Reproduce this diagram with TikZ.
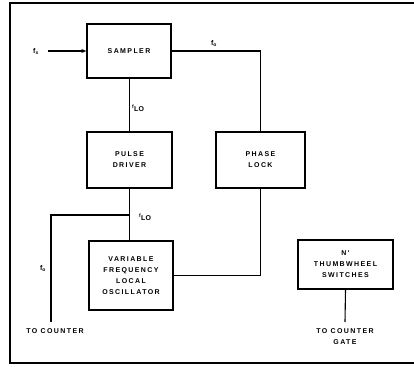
\documentclass[tikz,border=0pt]{standalone}
\usepackage{fontspec}
\newfontfamily\blk[LetterSpace=20]{Liberation Sans}
\newfontfamily\sml{Liberation Sans}
\usetikzlibrary{arrows.meta}
\tikzset{
  blockbox/.style={draw, line width=1.3pt, align=center, inner sep=0pt,
    font=\blk\bfseries\fontsize{7}{11}\selectfont},
  wire/.style={line width=1.1pt},
  lbl/.style={inner sep=0pt, font=\blk\bfseries\fontsize{7}{11}\selectfont, align=center},
  sig/.style={inner sep=0pt, font=\sml\bfseries\fontsize{7}{8}\selectfont},
  frame/.style={line width=1.4pt}
}
\begin{document}
\begin{tikzpicture}[x=1pt,y=-1pt]
\useasboundingbox (0,0) rectangle (414,366);
\fill[white] (0,0) rectangle (414,366);
% frame (right side cut off)
\draw[frame] (414,3) -- (10,3) -- (10,363) -- (414,363);

\node[blockbox, minimum width=84pt, minimum height=54pt] (smp) at (129,51) {SAMPLER};
\node[blockbox, minimum width=85pt, minimum height=56pt] (pd) at (129.5,160) {PULSE\\DRIVER};
\node[blockbox, minimum width=89pt, minimum height=56pt] (pl) at (260.5,160) {PHASE\\LOCK};
\node[blockbox, minimum width=84pt, minimum height=69pt] (vf) at (131,275.5) {VARIABLE\\FREQUENCY\\LOCAL\\OSCILLATOR};
\node[blockbox, minimum width=95pt, minimum height=49pt] (tw) at (345.5,264.5) {N'\\THUMBWHEEL\\SWITCHES};

\node[sig] (fx) at (36,51) {f\textsubscript{x}};
\node[sig] (fo1) at (214,43) {f\textsubscript{o}};
\node[sig] (flo1) at (138,108) {\textsuperscript{f}LO};
\node[sig] (flo2) at (145,217) {\textsuperscript{f}LO};
\node[sig] (fo2) at (43,268) {f\textsubscript{o}};
\node[lbl] (tc) at (55,331) {TO COUNTER};
\node[lbl] (tcg) at (345,337) {TO COUNTER\\GATE};

\coordinate (fxs) at (48,51);
\coordinate (j) at (129,215);
\coordinate (tcend) at (51,322);
\coordinate (tgend) at (345,322);

\draw[wire, -{Stealth[length=5pt,width=4pt]}] (fxs) -- (smp.west);
\draw[wire] (smp.east) -- (smp.east -| pl.north) -- (pl.north);
\draw[wire] (smp.south -| pd.north) -- (pd.north);
\draw[wire] (pd.south) -- (pd.south |- vf.north);
\draw[wire] (j) -- (j -| tcend) -- (tcend);
\draw[wire] (pl.south) |- (vf.east);
\draw[wire] (tw.south) -- (tgend);
\end{tikzpicture}
\end{document}
